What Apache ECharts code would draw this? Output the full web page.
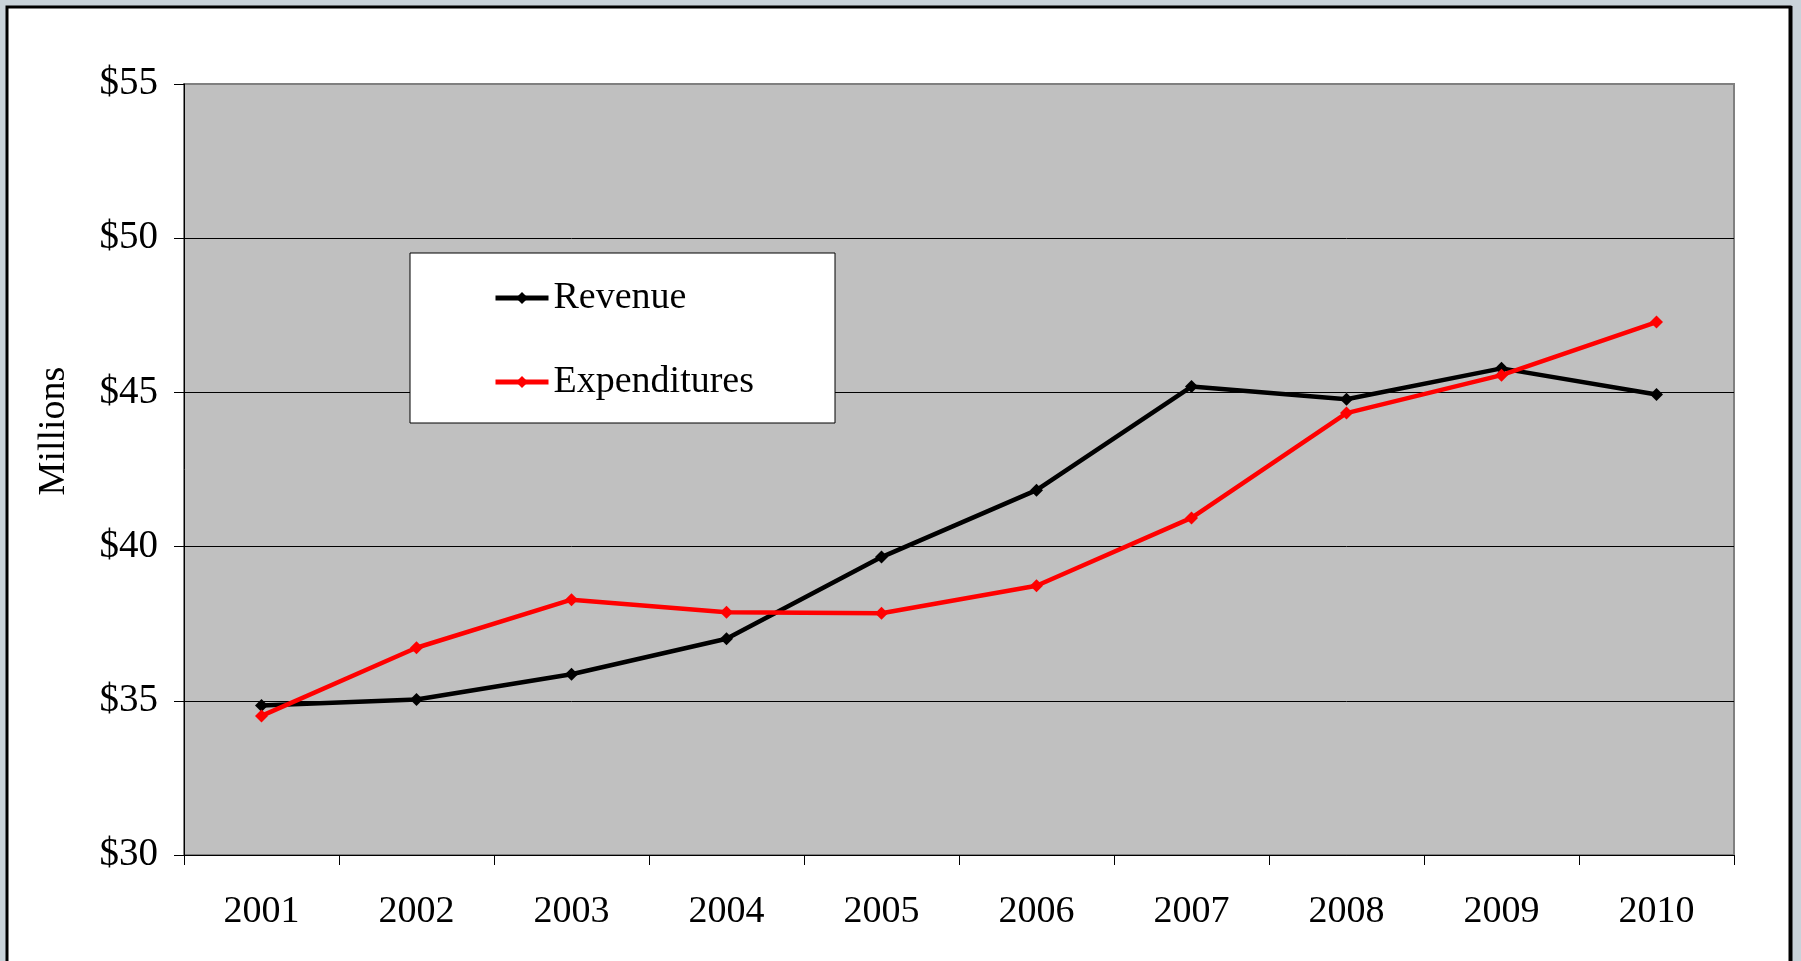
<!DOCTYPE html>
<html>
<head>
<meta charset="utf-8">
<script src="https://cdn.jsdelivr.net/npm/echarts@6/dist/echarts.min.js"></script>
<style>
html,body{margin:0;padding:0;background:#c9d3da;}
#chart{width:1801px;height:961px;}
</style>
</head>
<body>
<div id="chart"></div>
<script>
var years = ['2001','2002','2003','2004','2005','2006','2007','2008','2009','2010'];
var revenue = [34.85, 35.04, 35.86, 37.01, 39.66, 41.83, 45.19, 44.78, 45.78, 44.93];
var expenditures = [34.51, 36.72, 38.28, 37.87, 37.84, 38.73, 40.93, 44.33, 45.56, 47.28];
var yTicks = [30, 35, 40, 45, 50, 55];

var font = 'Liberation Serif, Times New Roman, serif';
var chart = echarts.init(document.getElementById('chart'));
chart.setOption({
  backgroundColor: '#c9d3da',
  animation: false,
  graphic: [
    {type:'rect', z:-10, silent:true, shape:{x:7,y:7,width:1783,height:1000}, style:{fill:'#ffffff', stroke:'#000000', lineWidth:3}},
    {type:'line', z:-9, silent:true, shape:{x1:1791,y1:6,x2:1791,y2:961}, style:{stroke:'#000000', lineWidth:3}},
    {type:'text', z:10, x:54, y:431, rotation:Math.PI/2, style:{text:'Millions', font:'38px ' + font, fill:'#000', align:'center', verticalAlign:'middle'}}
  ],
  grid: {left:184, right:67, top:84, bottom:106, show:true, backgroundColor:'#c0c0c0', borderColor:'#808080', borderWidth:2},
  legend: {
    left:410, top:253, orient:'vertical',
    backgroundColor:'#ffffff', borderColor:'#000000', borderWidth:1,
    padding:[26, 81, 22, 83],
    itemWidth:53, itemHeight:15, itemGap:46,
    lineStyle:{width:5},
    textStyle:{fontFamily:font, fontSize:38, color:'#000', lineHeight:36},
    data:['Revenue','Expenditures']
  },
  xAxis: {
    type:'category', data:years, boundaryGap:true,
    axisLine:{lineStyle:{color:'#000', width:1}},
    axisTick:{show:true, length:10, lineStyle:{color:'#000'}},
    axisLabel:{fontFamily:font, fontSize:38, color:'#000', margin:38},
    splitLine:{show:false}
  },
  yAxis: {
    type:'value', min:yTicks[0], max:yTicks[yTicks.length-1], interval:5,
    axisLine:{show:true, lineStyle:{color:'#000', width:1}},
    axisTick:{show:true, length:10, lineStyle:{color:'#000'}},
    axisLabel:{fontFamily:font, fontSize:39, color:'#000', margin:26, formatter:function(v){return '$'+v;}},
    splitLine:{show:true, lineStyle:{color:['#000','#000','#000','#000','#000','#808080'], width:1}}
  },
  series: [
    {name:'Revenue', type:'line', data:revenue, symbol:'diamond', symbolSize:13,
     itemStyle:{color:'#000000'}, lineStyle:{color:'#000000', width:4.5}},
    {name:'Expenditures', type:'line', data:expenditures, symbol:'diamond', symbolSize:13,
     itemStyle:{color:'#ff0000'}, lineStyle:{color:'#ff0000', width:4.5}}
  ]
});
</script>
</body>
</html>
